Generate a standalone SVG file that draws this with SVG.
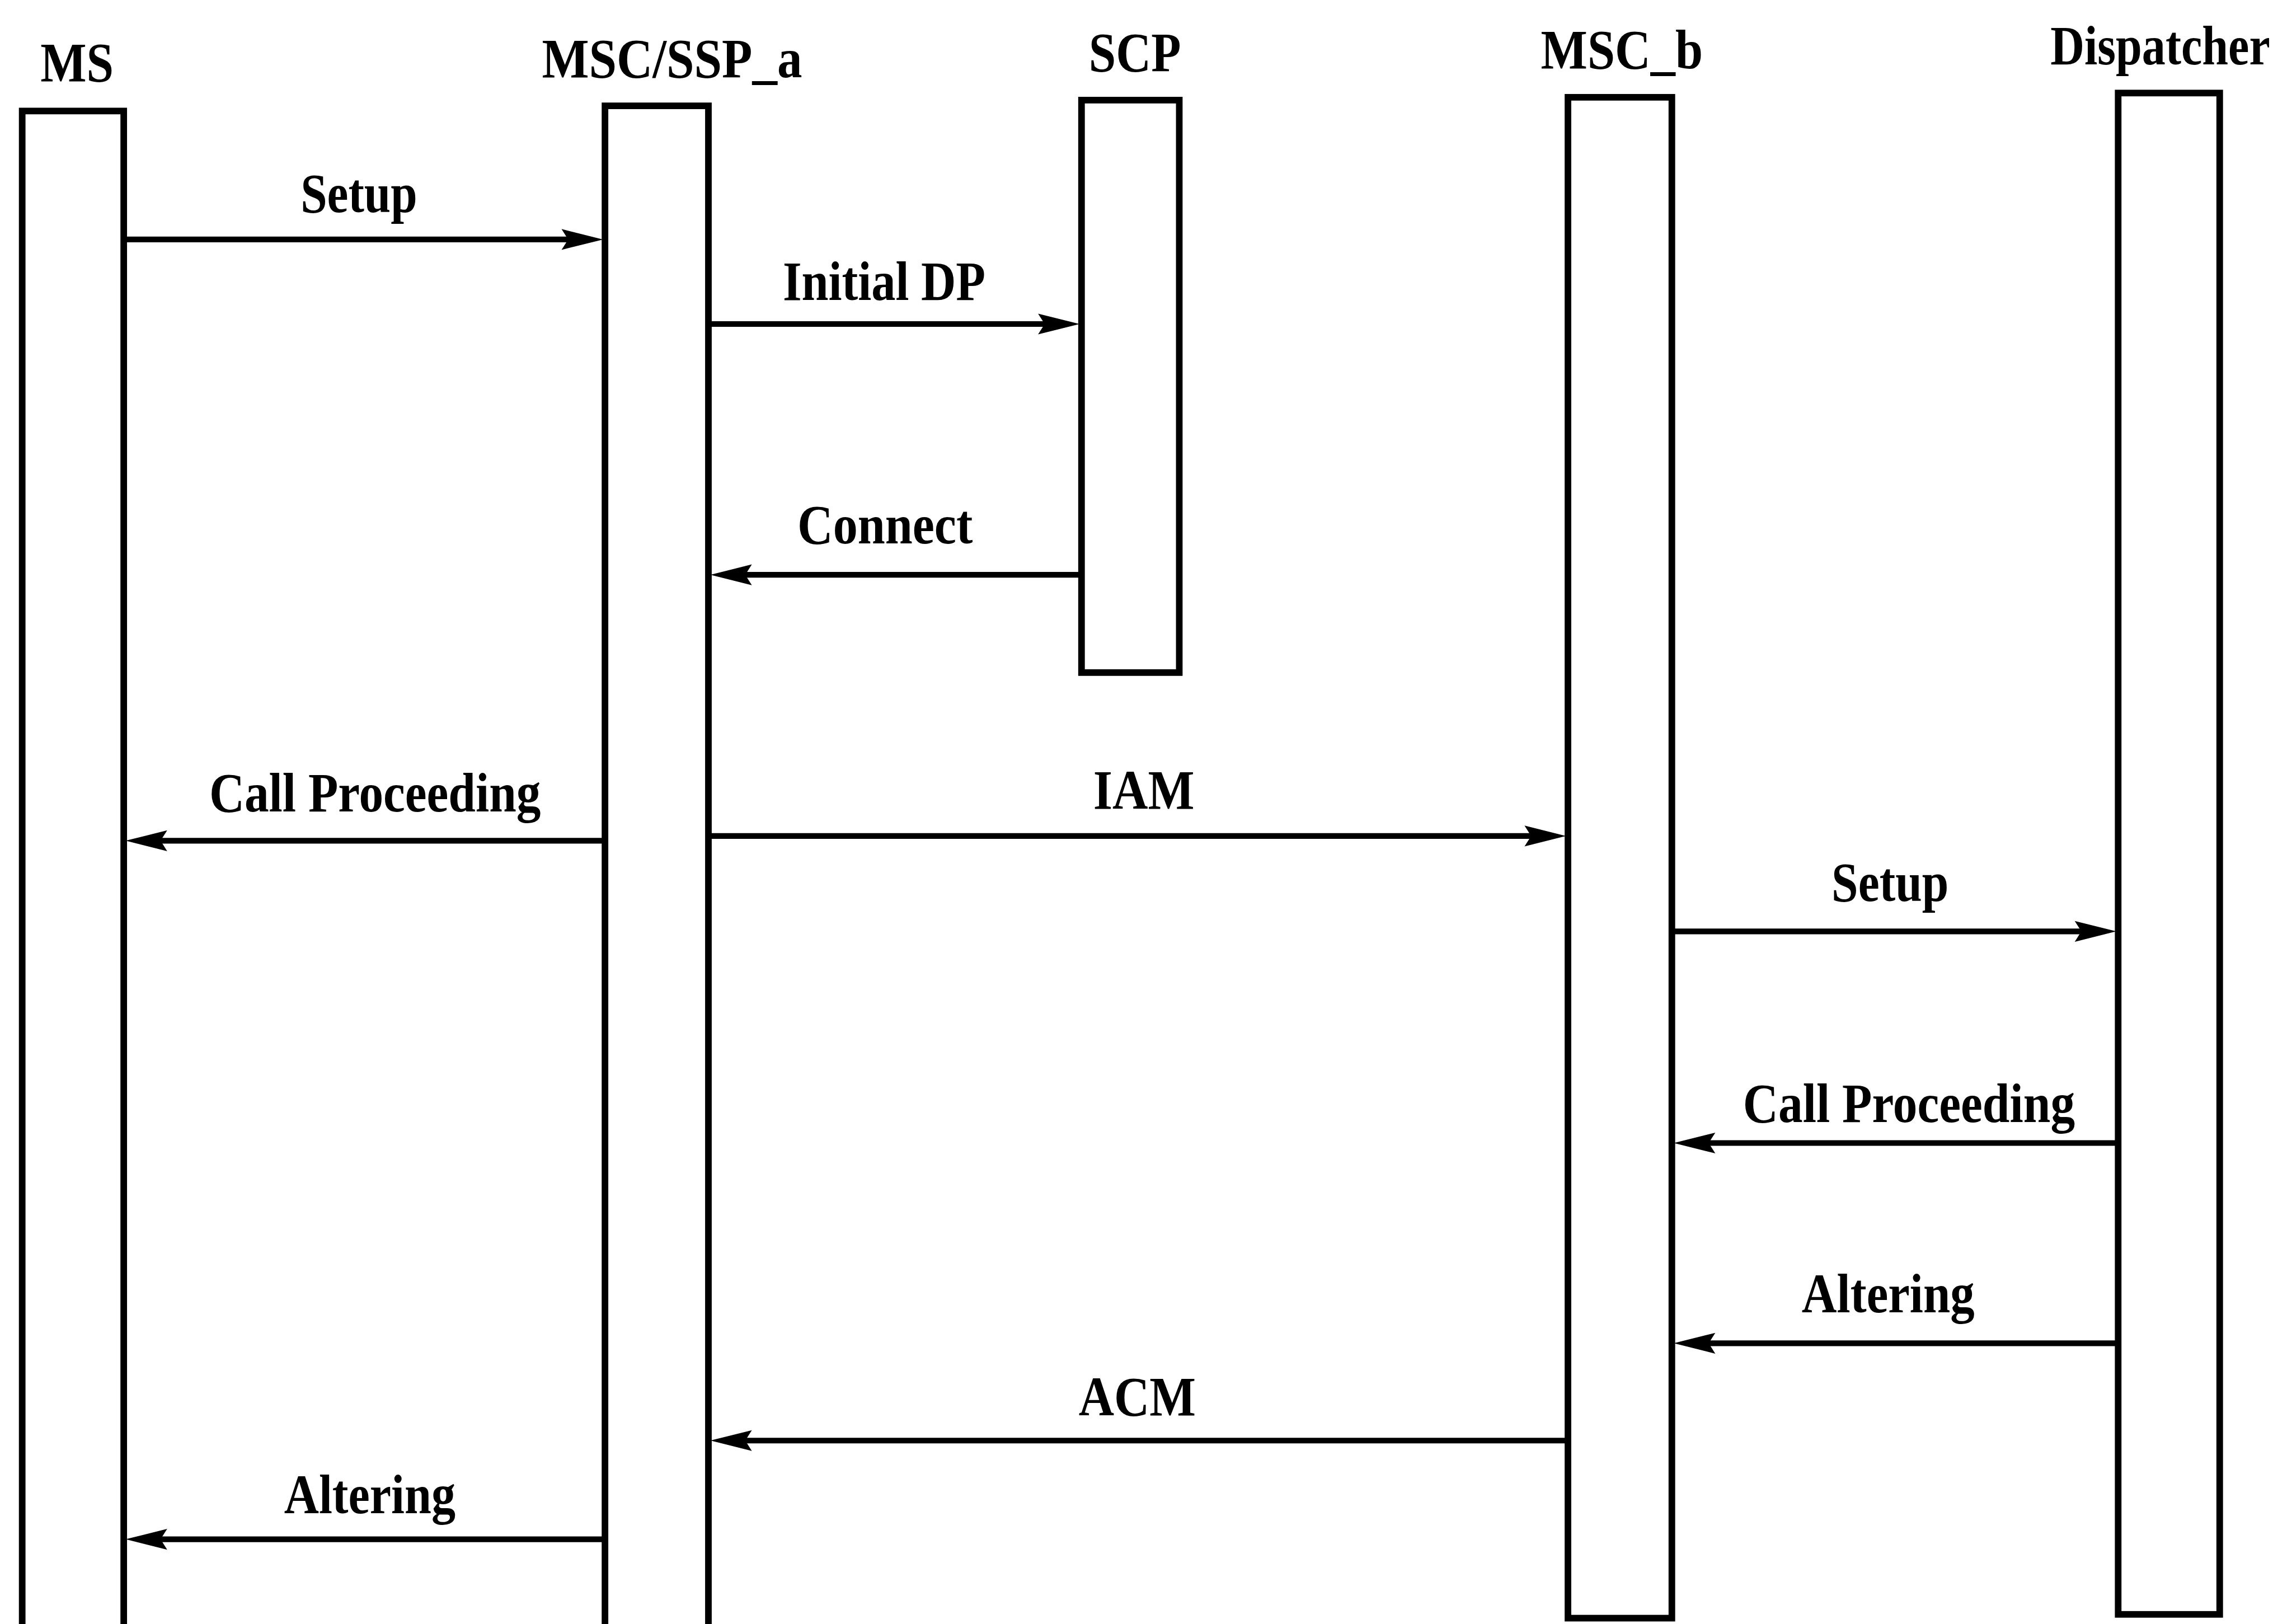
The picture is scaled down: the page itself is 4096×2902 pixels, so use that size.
<svg xmlns="http://www.w3.org/2000/svg" width="4096" height="2902" viewBox="0 0 4096 2902">
<style>
.life{fill:none;stroke:#000;stroke-width:14}
.msg{stroke:#000;stroke-width:12;fill:none}
.lbl{font-family:"Liberation Serif","Times New Roman",serif;font-weight:bold;font-size:118px;fill:#000;text-anchor:middle}
</style>
<defs>
<marker id="ah" markerUnits="userSpaceOnUse" markerWidth="100" markerHeight="50" viewBox="-5 -25 100 50" refX="45" refY="0" orient="auto">
<path d="M0,-22 L88,0 L0,22 L14,0 Z" fill="#000"/>
</marker>
</defs>
<rect width="4096" height="2902" fill="#fff"/>
<g transform="scale(0.844)">
<g id="node-ms">
<path class="life" d="M47,3460 V235 H262 V3460"/>
<text class="lbl" x="163" y="172" textLength="155" lengthAdjust="spacingAndGlyphs">MS</text>
</g>
<g id="node-msc-ssp-a">
<path class="life" d="M1281,3460 V224 H1500 V3460"/>
<text class="lbl" x="1423" y="163" textLength="551" lengthAdjust="spacingAndGlyphs">MSC/SSP_a</text>
</g>
<g id="node-scp">
<rect class="life" x="2290" y="212" width="207" height="1212"/>
<text class="lbl" x="2403" y="150" textLength="195" lengthAdjust="spacingAndGlyphs">SCP</text>
</g>
<g id="node-msc-b">
<rect class="life" x="3320" y="206" width="220" height="3220"/>
<text class="lbl" x="3434" y="145" textLength="343" lengthAdjust="spacingAndGlyphs">MSC_b</text>
</g>
<g id="node-dispatcher">
<rect class="life" x="4485" y="197" width="215" height="3221"/>
<text class="lbl" transform="translate(4574,136) scale(0.845,1)" x="0" y="0">Dispatcher</text>
</g>
<g id="connectors">
<line class="msg" x1="268" y1="507" x2="1234" y2="507" marker-end="url(#ah)"/>
<line class="msg" x1="1506" y1="686" x2="2243" y2="686" marker-end="url(#ah)"/>
<line class="msg" x1="2284" y1="1217" x2="1547" y2="1217" marker-end="url(#ah)"/>
<line class="msg" x1="1275" y1="1780" x2="309" y2="1780" marker-end="url(#ah)"/>
<line class="msg" x1="1506" y1="1770" x2="3273" y2="1770" marker-end="url(#ah)"/>
<line class="msg" x1="3546" y1="1972" x2="4438" y2="1972" marker-end="url(#ah)"/>
<line class="msg" x1="4479" y1="2420" x2="3587" y2="2420" marker-end="url(#ah)"/>
<line class="msg" x1="4479" y1="2844" x2="3587" y2="2844" marker-end="url(#ah)"/>
<line class="msg" x1="3314" y1="3050" x2="1547" y2="3050" marker-end="url(#ah)"/>
<line class="msg" x1="1275" y1="3259" x2="309" y2="3259" marker-end="url(#ah)"/>
</g>
<g id="labels">
<text class="lbl" x="760" y="449" textLength="247" lengthAdjust="spacingAndGlyphs">Setup</text>
<text class="lbl" x="1872" y="635" textLength="429" lengthAdjust="spacingAndGlyphs">Initial DP</text>
<text class="lbl" x="1874" y="1150" textLength="371" lengthAdjust="spacingAndGlyphs">Connect</text>
<text class="lbl" x="794" y="1718" textLength="702" lengthAdjust="spacingAndGlyphs">Call Proceeding</text>
<text class="lbl" x="2422" y="1712" textLength="214" lengthAdjust="spacingAndGlyphs">IAM</text>
<text class="lbl" x="4002" y="1908" textLength="248" lengthAdjust="spacingAndGlyphs">Setup</text>
<text class="lbl" x="4042" y="2376" textLength="703" lengthAdjust="spacingAndGlyphs">Call Proceeding</text>
<text class="lbl" x="3998" y="2779" textLength="366" lengthAdjust="spacingAndGlyphs">Altering</text>
<text class="lbl" x="2408" y="2996" textLength="248" lengthAdjust="spacingAndGlyphs">ACM</text>
<text class="lbl" x="783" y="3204" textLength="363" lengthAdjust="spacingAndGlyphs">Altering</text>
</g>
</g>
</svg>
